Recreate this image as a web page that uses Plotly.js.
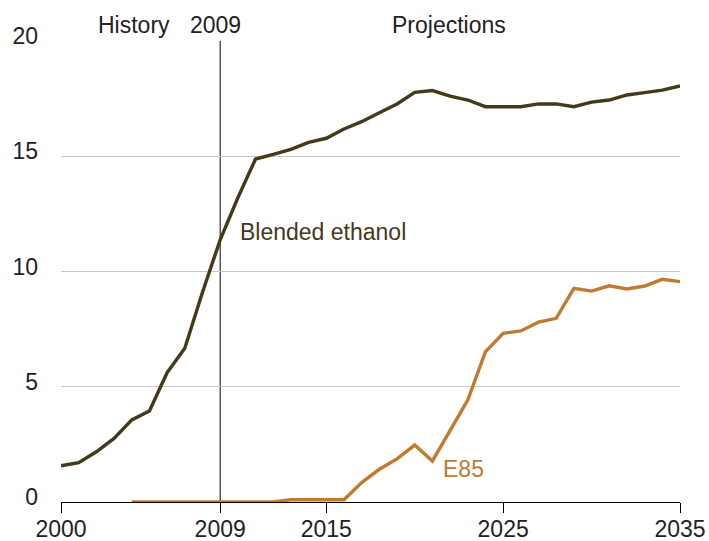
<!DOCTYPE html>
<html>
<head>
<meta charset="utf-8">
<script src="https://cdn.plot.ly/plotly-3.0.1.min.js"></script>
<style>html,body{margin:0;padding:0;background:#fff;}#chart{width:709px;height:541px;}</style>
</head>
<body>
<div id="chart"></div>
<script>
// Data
const years = [2000,2001,2002,2003,2004,2005,2006,2007,2008,2009,2010,2011,2012,2013,2014,2015,2016,2017,2018,2019,2020,2021,2022,2023,2024,2025,2026,2027,2028,2029,2030,2031,2032,2033,2034,2035];
const blendedEthanol = [1.57,1.71,2.18,2.76,3.56,3.95,5.61,6.67,9.1,11.37,13.2,14.88,15.08,15.3,15.6,15.78,16.18,16.5,16.89,17.27,17.77,17.85,17.61,17.44,17.15,17.15,17.15,17.27,17.27,17.15,17.35,17.44,17.66,17.76,17.87,18.05];
const e85Years = [2004,2005,2006,2007,2008,2009,2010,2011,2012,2013,2014,2015,2016,2017,2018,2019,2020,2021,2022,2023,2024,2025,2026,2027,2028,2029,2030,2031,2032,2033,2034,2035];
const e85 = [0,0,0,0,0,0,0,0,0,0.1,0.1,0.1,0.1,0.84,1.42,1.87,2.47,1.78,3.12,4.42,6.52,7.32,7.42,7.8,7.97,9.27,9.15,9.38,9.24,9.37,9.66,9.56];
const xTicks = [2000,2009,2015,2025,2035];
const yTicks = [0,5,10,15,20];
const historyEnd = 2009;

const brown = '#45391b';
const orange = '#c17a30';
const font = 'Liberation Sans, Arial, sans-serif';
const fs = 23;

const traces = [
  {x: years, y: blendedEthanol, type: 'scatter', mode: 'lines', line: {color: brown, width: 3.4}, hoverinfo: 'skip'},
  {x: e85Years, y: e85, type: 'scatter', mode: 'lines', line: {color: orange, width: 3.4}, hoverinfo: 'skip'}
];

const layout = {
  width: 709, height: 541,
  margin: {l: 61, r: 29, t: 41, b: 39},
  paper_bgcolor: '#fff', plot_bgcolor: '#fff',
  showlegend: false,
  font: {family: font, size: fs, color: '#222'},
  xaxis: {
    range: [2000, 2035], tickvals: xTicks, ticktext: xTicks.map(String),
    showgrid: false, zeroline: false, showline: true, linecolor: '#000', linewidth: 1,
    ticks: 'outside', ticklen: 10, tickcolor: '#000', tickwidth: 1,
    ticklabelstandoff: -4,
    layer: 'below traces', tickfont: {family: font, size: fs, color: '#222'}
  },
  yaxis: {
    range: [0, 20], tickvals: yTicks, ticktext: yTicks.map(String),
    showgrid: true, gridcolor: '#c8c8c8', gridwidth: 1, zeroline: false, showline: false,
    ticks: '', ticklabelstandoff: 22, ticklabelshift: -5,
    tickfont: {family: font, size: fs, color: '#222'}
  },
  shapes: [
    {type: 'line', xref: 'x', yref: 'y', x0: historyEnd, x1: historyEnd, y0: 0, y1: 20, line: {color: '#000', width: 1}, layer: 'below'}
  ],
  annotations: [
    {x: 2010.0, y: 11.7, xref: 'x', yref: 'y', text: 'Blended ethanol', showarrow: false, xanchor: 'left', yanchor: 'middle', font: {family: font, size: fs, color: brown}},
    {x: 2021.5, y: 1.45, xref: 'x', yref: 'y', text: 'E85', showarrow: false, xanchor: 'left', yanchor: 'middle', font: {family: font, size: fs, color: orange}},
    {x: 2004.1, y: 1.035, xref: 'x', yref: 'paper', text: 'History', showarrow: false, xanchor: 'center', yanchor: 'middle', font: {family: font, size: fs, color: '#222'}},
    {x: 2008.76, y: 1.035, xref: 'x', yref: 'paper', text: String(historyEnd), showarrow: false, xanchor: 'center', yanchor: 'middle', font: {family: font, size: fs, color: '#222'}},
    {x: 2021.93, y: 1.035, xref: 'x', yref: 'paper', text: 'Projections', showarrow: false, xanchor: 'center', yanchor: 'middle', font: {family: font, size: fs, color: '#222'}}
  ]
};

Plotly.newPlot('chart', traces, layout, {staticPlot: true, displayModeBar: false});
</script>
</body>
</html>
